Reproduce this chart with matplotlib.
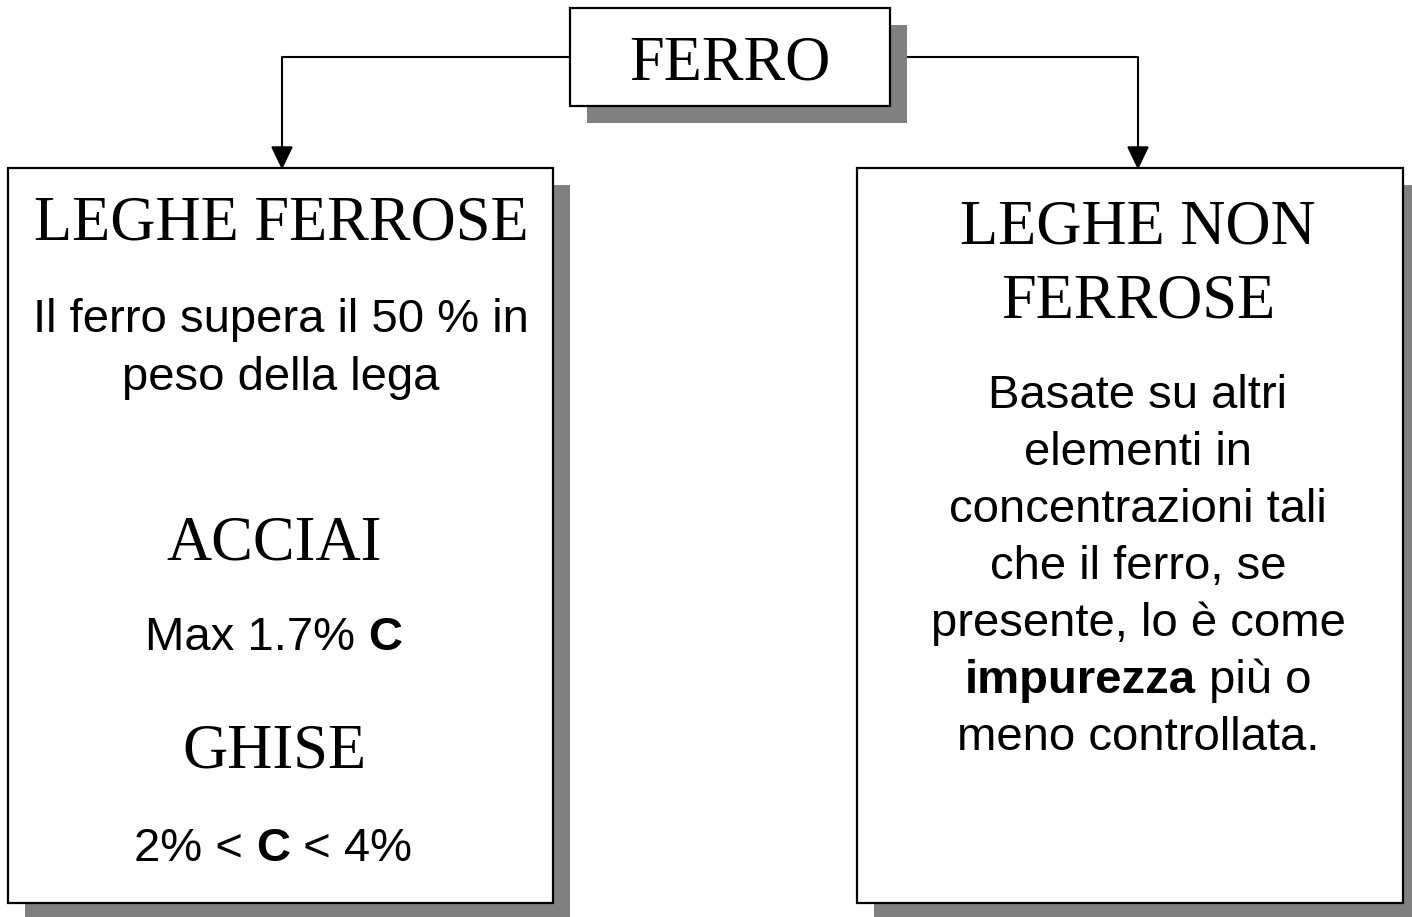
import matplotlib.pyplot as plt
from matplotlib.patches import Rectangle, Polygon

# box texts
top_title = "FERRO"
left_title = "LEGHE FERROSE"
left_intro = ["Il ferro supera il 50 % in", "peso della lega"]
steel_title = "ACCIAI"
steel_rule = [("Max 1.7% ", "normal"), ("C", "bold")]
cast_title = "GHISE"
cast_rule = [("2% < ", "normal"), ("C", "bold"), (" < 4%", "normal")]
right_title = ["LEGHE NON", "FERROSE"]
right_body = [
    [("Basate su altri", "normal")],
    [("elementi in", "normal")],
    [("concentrazioni tali", "normal")],
    [("che il ferro, se", "normal")],
    [("presente, lo è come", "normal")],
    [("impurezza", "bold"), (" più o", "normal")],
    [("meno controllata.", "normal")],
]

W, H = 1412, 917
fig = plt.figure(figsize=(W / 100, H / 100), dpi=100)
ax = fig.add_axes([0, 0, 1, 1])
ax.set_xlim(0, W)
ax.set_ylim(H, 0)
ax.axis('off')

serif = 'Liberation Serif'
sans = 'Liberation Sans'
big = 45
small = 34
shadow = 17


def box(x0, y0, x1, y1):
    ax.add_patch(Rectangle((x0 + shadow, y0 + shadow), x1 - x0, y1 - y0,
                           facecolor='#808080', edgecolor='none', zorder=1))
    ax.add_patch(Rectangle((x0, y0), x1 - x0, y1 - y0,
                           facecolor='white', edgecolor='black', lw=1.6, zorder=2))


box(570, 8, 890, 106)
box(8, 168, 553, 903)
box(857, 168, 1403, 903)

# connectors
ax.plot([570, 282, 282], [57, 57, 148], color='black', lw=1.5, zorder=0)
ax.plot([890, 1138, 1138], [57, 57, 148], color='black', lw=1.5, zorder=0)
for xa in [282, 1138]:
    ax.add_patch(Polygon([(xa - 10, 147), (xa + 10, 147), (xa, 168)],
                         closed=True, color='black', zorder=3))


def serif_text(x, y, s):
    ax.text(x, y, s, family=serif, size=big, ha='center', va='baseline', zorder=4)


serif_text(730, 79, top_title)
serif_text(281, 240, left_title)
for i, s in enumerate(left_intro):
    ax.text(281, 332 + i * 58, s, family=sans, size=small, ha='center', va='baseline', zorder=4)
serif_text(274, 560, steel_title)
serif_text(274, 767, cast_title)
for i, s in enumerate(right_title):
    serif_text(1138, 244 + i * 74, s)

renderer = fig.canvas.get_renderer()


def mixed_line(cx, cy, parts):
    texts = []
    for s, w in parts:
        t = ax.text(0, cy, s, family=sans, size=small, weight=w, ha='left', va='baseline', zorder=4)
        texts.append(t)
    widths = [t.get_window_extent(renderer).width for t in texts]
    x = cx - sum(widths) / 2
    for t, w in zip(texts, widths):
        t.set_x(x)
        x += w


mixed_line(274, 650, steel_rule)
mixed_line(273, 861, cast_rule)
for i, parts in enumerate(right_body):
    mixed_line(1138, 408 + i * 57, parts)

fig.savefig('out.png', dpi=100)
